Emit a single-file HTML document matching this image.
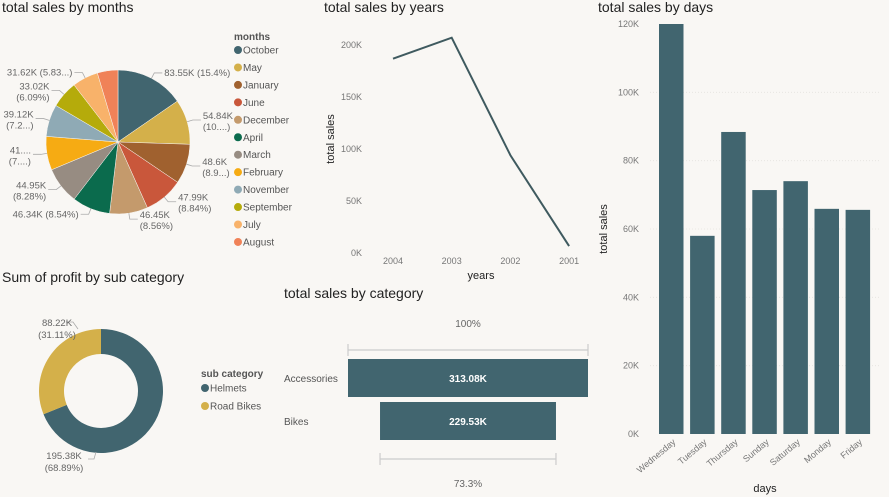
<!DOCTYPE html>
<html><head><meta charset="utf-8">
<style>
body{margin:0;width:889px;height:497px;background:#f9f7f4;font-family:"Liberation Sans",sans-serif;overflow:hidden}
svg{position:absolute;left:0;top:0}
</style></head>
<body>
<svg width="889" height="497" viewBox="0 0 889 497" id="s">
<g font-family="Liberation Sans, sans-serif">
<text x="2" y="12" font-size="14" fill="#222">total sales by months</text>
<text x="324" y="12" font-size="14" fill="#222">total sales by years</text>
<text x="598" y="12" font-size="14" fill="#222">total sales by days</text>
<text x="2" y="282" font-size="14" fill="#222">Sum of profit by sub category</text>
<text x="284" y="298" font-size="14" fill="#222">total sales by category</text>
</g>
<g id="pie"></g>
<g id="pielegend"></g>
<g id="line"></g>
<g id="bars"></g>
<g id="donut"></g>
<g id="funnel"></g>
</svg>
<script>
const NS="http://www.w3.org/2000/svg";
function mk(p,t,a,txt){const e=document.createElementNS(NS,t);for(const k in a)e.setAttribute(k,a[k]);if(txt!==undefined)e.textContent=txt;p.appendChild(e);return e;}
const F="Liberation Sans, sans-serif";

// ---- months pie
const months=["October","May","January","June","December","April","March","February","November","September","July","August"];
const monthSales=[83.55,54.84,48.6,47.99,46.45,46.34,44.95,41.0,39.12,33.02,31.62,25.1];
const monthLabels=["83.55K (15.4%)","54.84K|(10....)","48.6K|(8.9...)","47.99K|(8.84%)","46.45K|(8.56%)","46.34K (8.54%)","44.95K|(8.28%)","41....|(7....)","39.12K|(7.2...)","33.02K|(6.09%)","31.62K (5.83...)",""];
const monthColors=["#41656f","#d4b04a","#a0612f","#c9573b","#c49a6c","#0b6b4d","#978c82","#f6ab13","#8faab5","#b5ab0b","#f8b26a","#f08258"];
const pie=document.getElementById('pie');
const cx=118,cy=142,R=72;
let tot=monthSales.reduce((a,b)=>a+b,0),acc=0;
monthSales.forEach((v,i)=>{
  const a0=acc/tot*2*Math.PI;acc+=v;const a1=acc/tot*2*Math.PI;
  const x0=cx+R*Math.sin(a0),y0=cy-R*Math.cos(a0),x1=cx+R*Math.sin(a1),y1=cy-R*Math.cos(a1);
  const p=mk(pie,'path',{d:`M${cx},${cy}L${x0},${y0}A${R},${R} 0 ${a1-a0>Math.PI?1:0} 1 ${x1},${y1}Z`,fill:monthColors[i],stroke:"#f9f7f4","stroke-width":0.5});
  
  
  if(!monthLabels[i])return;
  const am=(a0+a1)/2,s=Math.sin(am),c=-Math.cos(am);
  const ex=cx+(R+6)*s,ey=cy+(R+6)*c,right=s>=0;
  const lx=ex+(right?8:-8);
  mk(pie,'polyline',{points:`${cx+R*s},${cy+R*c} ${ex},${ey} ${lx},${ey}`,fill:"none",stroke:"#aaa","stroke-width":0.8});
  const parts=monthLabels[i].split('|');
  const t=mk(pie,'text',{x:lx+(right?2:-2),y:ey+(parts.length>1?-1:3),"font-size":9.5,fill:"#666","text-anchor":right?"start":"end","font-family":F});
  
  
  parts.forEach((pt,j)=>mk(t,'tspan',{x:lx+(right?2:-2),dy:j?11:0},pt));
});
const pl=document.getElementById('pielegend');
mk(pl,'text',{x:234,y:40,"font-size":10,"font-weight":"bold",fill:"#555","font-family":F},"months");
months.forEach((m,i)=>{
  const y=50+i*17.45;
  const g=mk(pl,'g',{});
  
  
  mk(g,'circle',{cx:238,cy:y,r:4,fill:monthColors[i]});
  mk(g,'text',{x:243,y:y+3.5,"font-size":10,fill:"#555","font-family":F},m);
});

// ---- years line
const years=["2004","2003","2002","2001"];
const yearSales=[186.8,207,94,6.7];
const yearTicks=[0,50,100,150,200];
const ln=document.getElementById('line');
const lx0=393,lstep=58.7,yy=v=>253-v/200*208;
yearTicks.forEach(t=>{const e=mk(ln,'text',{x:362,y:yy(t)+3,"font-size":9,fill:"#777","text-anchor":"end","font-family":F},t+"K");});
years.forEach((y,i)=>{const e=mk(ln,'text',{x:lx0+i*lstep,y:264,"font-size":9,fill:"#777","text-anchor":"middle","font-family":F},y);});
const lp=mk(ln,'polyline',{points:yearSales.map((v,i)=>`${lx0+i*lstep},${yy(v)}`).join(' '),fill:"none",stroke:"#3f5a5f","stroke-width":2});


const ylt=mk(ln,'text',{x:0,y:0,transform:"translate(334,139) rotate(-90)","font-size":11,fill:"#222","text-anchor":"middle","font-family":F},"total sales");

const xlt=mk(ln,'text',{x:481,y:279,"font-size":11,fill:"#222","text-anchor":"middle","font-family":F},"years");


// ---- days bars
const days=["Wednesday","Tuesday","Thursday","Sunday","Saturday","Monday","Friday"];
const daySales=[120,58,88.4,71.4,74,65.9,65.6];
const dayTicks=[0,20,40,60,80,100,120];
const bg=document.getElementById('bars');
const by=v=>434-v/120*410,bx0=659,bstep=31.1,bw=24.5;
dayTicks.forEach(t=>{
  const e=mk(bg,'text',{x:639,y:by(t)+3,"font-size":9,fill:"#777","text-anchor":"end","font-family":F},t+"K");
  
  if(t>0&&t<120)mk(bg,'line',{x1:650,x2:880,y1:by(t),y2:by(t),stroke:"#e6e3de","stroke-dasharray":"1 2","stroke-width":0.8});
});
days.forEach((d,i)=>{
  const x=bx0+i*bstep;
  const r=mk(bg,'rect',{x:x,y:by(daySales[i]),width:bw,height:434-by(daySales[i]),fill:"#41656f"});
  
  
  const t=mk(bg,'text',{x:0,y:0,transform:`translate(${x+bw/2+5},${443}) rotate(-40)`,"font-size":9,fill:"#777","text-anchor":"end","font-family":F},d);
  
});
const dyt=mk(bg,'text',{x:0,y:0,transform:"translate(607,229) rotate(-90)","font-size":11,fill:"#222","text-anchor":"middle","font-family":F},"total sales");

const dxt=mk(bg,'text',{x:765,y:492,"font-size":11,fill:"#222","text-anchor":"middle","font-family":F},"days");


// ---- donut
const subcats=["Helmets","Road Bikes"];
const subProfit=[195.38,88.22];
const subLabels=["195.38K|(68.89%)","88.22K|(31.11%)"];
const subColors=["#41656f","#d4b04a"];
const dn=document.getElementById('donut');
const dcx=101,dcy=391,dR=62,dr=37;
let dt=subProfit.reduce((a,b)=>a+b,0),da=0;
subProfit.forEach((v,i)=>{
  const a0=da/dt*2*Math.PI;da+=v;const a1=da/dt*2*Math.PI;
  const P=(r,a)=>`${dcx+r*Math.sin(a)},${dcy-r*Math.cos(a)}`;
  const lg=a1-a0>Math.PI?1:0;
  const p=mk(dn,'path',{d:`M${P(dR,a0)}A${dR},${dR} 0 ${lg} 1 ${P(dR,a1)}L${P(dr,a1)}A${dr},${dr} 0 ${lg} 0 ${P(dr,a0)}Z`,fill:subColors[i]});
  
  
});
[0,1].forEach(i=>{
  mk(dn,'polyline',{points:i?`${78},${329} ${73},${322} ${66},${322}`:`${96},${452} ${94},${459} ${88},${459}`,fill:"none",stroke:"#aaa","stroke-width":0.8});
  const parts=subLabels[i].split('|');
  const t=mk(dn,'text',{"font-size":9.5,fill:"#666","text-anchor":"middle","font-family":F});
  
  
  const x=i?57:64,y=i?326:459;
  parts.forEach((pt,j)=>mk(t,'tspan',{x:x,y:y+j*12},pt));
});
mk(dn,'text',{x:201,y:377,"font-size":10,"font-weight":"bold",fill:"#555","font-family":F},"sub category");
subcats.forEach((s,i)=>{
  const g=mk(dn,'g',{});
  
  
  mk(g,'circle',{cx:205,cy:388+i*18,r:4,fill:subColors[i]});
  mk(g,'text',{x:210,y:391.5+i*18,"font-size":10,fill:"#555","font-family":F},s);
});

// ---- funnel
const categories=["Accessories","Bikes"];
const catSales=[313.08,229.53];
const catLabels=["313.08K","229.53K"];
const fn=document.getElementById('funnel');
const fc=468,fW=240,fy=[359,402],fh=38;
catSales.forEach((v,i)=>{
  const w=v/catSales[0]*fW;
  const r=mk(fn,'rect',{x:fc-w/2,y:fy[i],width:w,height:fh,fill:"#41656f"});
  
  
  mk(fn,'text',{x:fc,y:fy[i]+23,"font-size":10,"font-weight":"bold",fill:"#fff","text-anchor":"middle","font-family":F},catLabels[i]);
  const c=mk(fn,'text',{x:284,y:fy[i]+23,"font-size":10,fill:"#555","font-family":F},categories[i]);
  
});
const w2=catSales[1]/catSales[0]*fW;
[[fW,350,"100%",327],[w2,459,(catSales[1]/catSales[0]*100).toFixed(1)+"%",487]].forEach((b,i)=>{
  const g=mk(fn,'g',{stroke:"#ccc","stroke-width":1.2});
  
  
  mk(g,'line',{x1:fc-b[0]/2,x2:fc+b[0]/2,y1:b[1],y2:b[1]});
  mk(g,'line',{x1:fc-b[0]/2,x2:fc-b[0]/2,y1:b[1]-6,y2:b[1]+6});
  mk(g,'line',{x1:fc+b[0]/2,x2:fc+b[0]/2,y1:b[1]-6,y2:b[1]+6});
  mk(fn,'text',{x:fc,y:b[3],"font-size":10,fill:"#666","text-anchor":"middle","font-family":F},b[2]);
});
</script>
</body></html>
